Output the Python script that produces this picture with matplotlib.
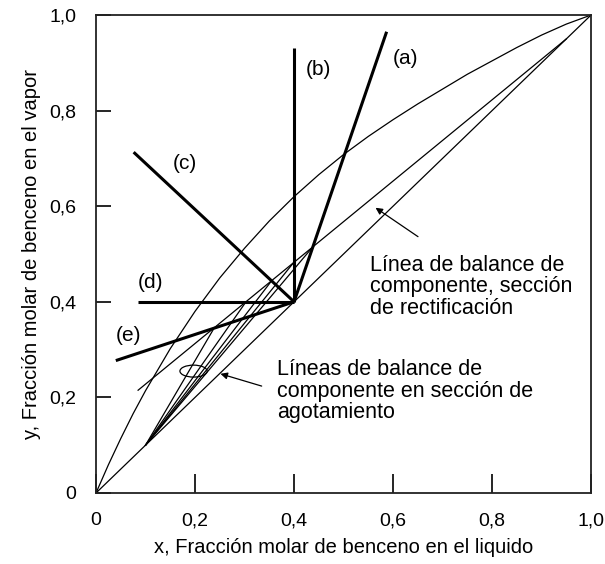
import matplotlib.pyplot as plt
from matplotlib.patches import Ellipse

plt.rcParams["font.family"] = ["Liberation Sans", "DejaVu Sans"]

# vapour-liquid equilibrium curve, benzene
EQ_X = [0, 0.025, 0.05, 0.075, 0.1, 0.15, 0.2, 0.25, 0.3, 0.35, 0.4, 0.45, 0.5,
        0.55, 0.6, 0.65, 0.7, 0.75, 0.8, 0.85, 0.9, 0.95, 1.0]
EQ_Y = [0, 0.059, 0.114, 0.166, 0.214, 0.302, 0.38, 0.45, 0.512, 0.569, 0.62, 0.666, 0.708,
        0.746, 0.781, 0.814, 0.845, 0.876, 0.904, 0.932, 0.958, 0.981, 1.0]

# feed point on the diagonal and the five q-lines leaving it
FEED = (0.4, 0.4)
Q_LABELS = ["(a)", "(b)", "(c)", "(d)", "(e)"]
Q_END_X = [0.587, 0.40, 0.076, 0.085, 0.04]
Q_END_Y = [0.965, 0.93, 0.713, 0.40, 0.277]
Q_LABEL_X = [0.625, 0.45, 0.18, 0.11, 0.065]
Q_LABEL_Y = [0.91, 0.885, 0.69, 0.44, 0.33]

# rectifying operating line (distillate end and lower end)
RECT_X = [0.95, 0.085]
RECT_Y = [0.95, 0.215]

# intersections of each q-line with the rectifying line
PINCH_X = [0.438, 0.40, 0.354, 0.303, 0.238]
PINCH_Y = [0.515, 0.483, 0.443, 0.40, 0.344]

# bottoms composition: all stripping lines start here
BOTTOMS = (0.1, 0.1)

TICKS = [0, 0.2, 0.4, 0.6, 0.8, 1.0]
TICK_TEXT = ["0", "0,2", "0,4", "0,6", "0,8", "1,0"]

fig = plt.figure(figsize=(6.05, 5.64), dpi=100)
ax = fig.add_axes([0.1587, 0.1259, 0.8183, 0.8475])

thin = dict(color="black", lw=0.9)
thick = dict(color="black", lw=2.2, solid_capstyle="butt")

ax.plot([0, 1], [0, 1], **thin)
ax.plot(EQ_X, EQ_Y, **thin)
ax.plot(RECT_X, RECT_Y, **thin)

for px, py in zip(PINCH_X, PINCH_Y):
    ax.plot([BOTTOMS[0], px], [BOTTOMS[1], py], **thin)

for ex, ey, lab, lx, ly in zip(Q_END_X, Q_END_Y, Q_LABELS, Q_LABEL_X, Q_LABEL_Y):
    ax.plot([FEED[0], ex], [FEED[1], ey], **thick)
    ax.text(lx, ly, lab, fontsize=15, ha="center", va="center")

ax.text(0.554, 0.431, "Línea de balance de\ncomponente, sección\nde rectificación",
        fontsize=15.5, ha="left", va="center", linespacing=1.05)
ax.annotate("", xy=(0.56, 0.60), xytext=(0.655, 0.533),
            arrowprops=dict(arrowstyle="-|>", color="black", lw=0.9, mutation_scale=10))

ax.text(0.366, 0.213, "Líneas de balance de\ncomponente en sección de\nagotamiento",
        fontsize=15.5, ha="left", va="center", linespacing=1.05)
ax.annotate("", xy=(0.246, 0.251), xytext=(0.34, 0.222),
            arrowprops=dict(arrowstyle="-|>", color="black", lw=0.9, mutation_scale=10))
ax.add_patch(Ellipse((0.197, 0.255), 0.055, 0.025, fill=False, lw=0.9))

ax.set_xlim(0, 1)
ax.set_ylim(0, 1)
ax.set_xticks(TICKS)
ax.set_xticklabels(TICK_TEXT)
ax.set_yticks(TICKS)
ax.set_yticklabels(TICK_TEXT)
ax.tick_params(axis="x", direction="in", length=14, width=1.2, pad=14, labelsize=14)
ax.tick_params(axis="y", direction="in", length=11, width=1.2, pad=14, labelsize=14)
for s in ax.spines.values():
    s.set_linewidth(1.3)
    s.set_color("#222222")

ax.set_xlabel("x, Fracción molar de benceno en el liquido", fontsize=14.5, labelpad=6)
ax.set_ylabel("y, Fracción molar de benceno en el vapor", fontsize=14.5, labelpad=6)

fig.savefig("out.png", dpi=100)
